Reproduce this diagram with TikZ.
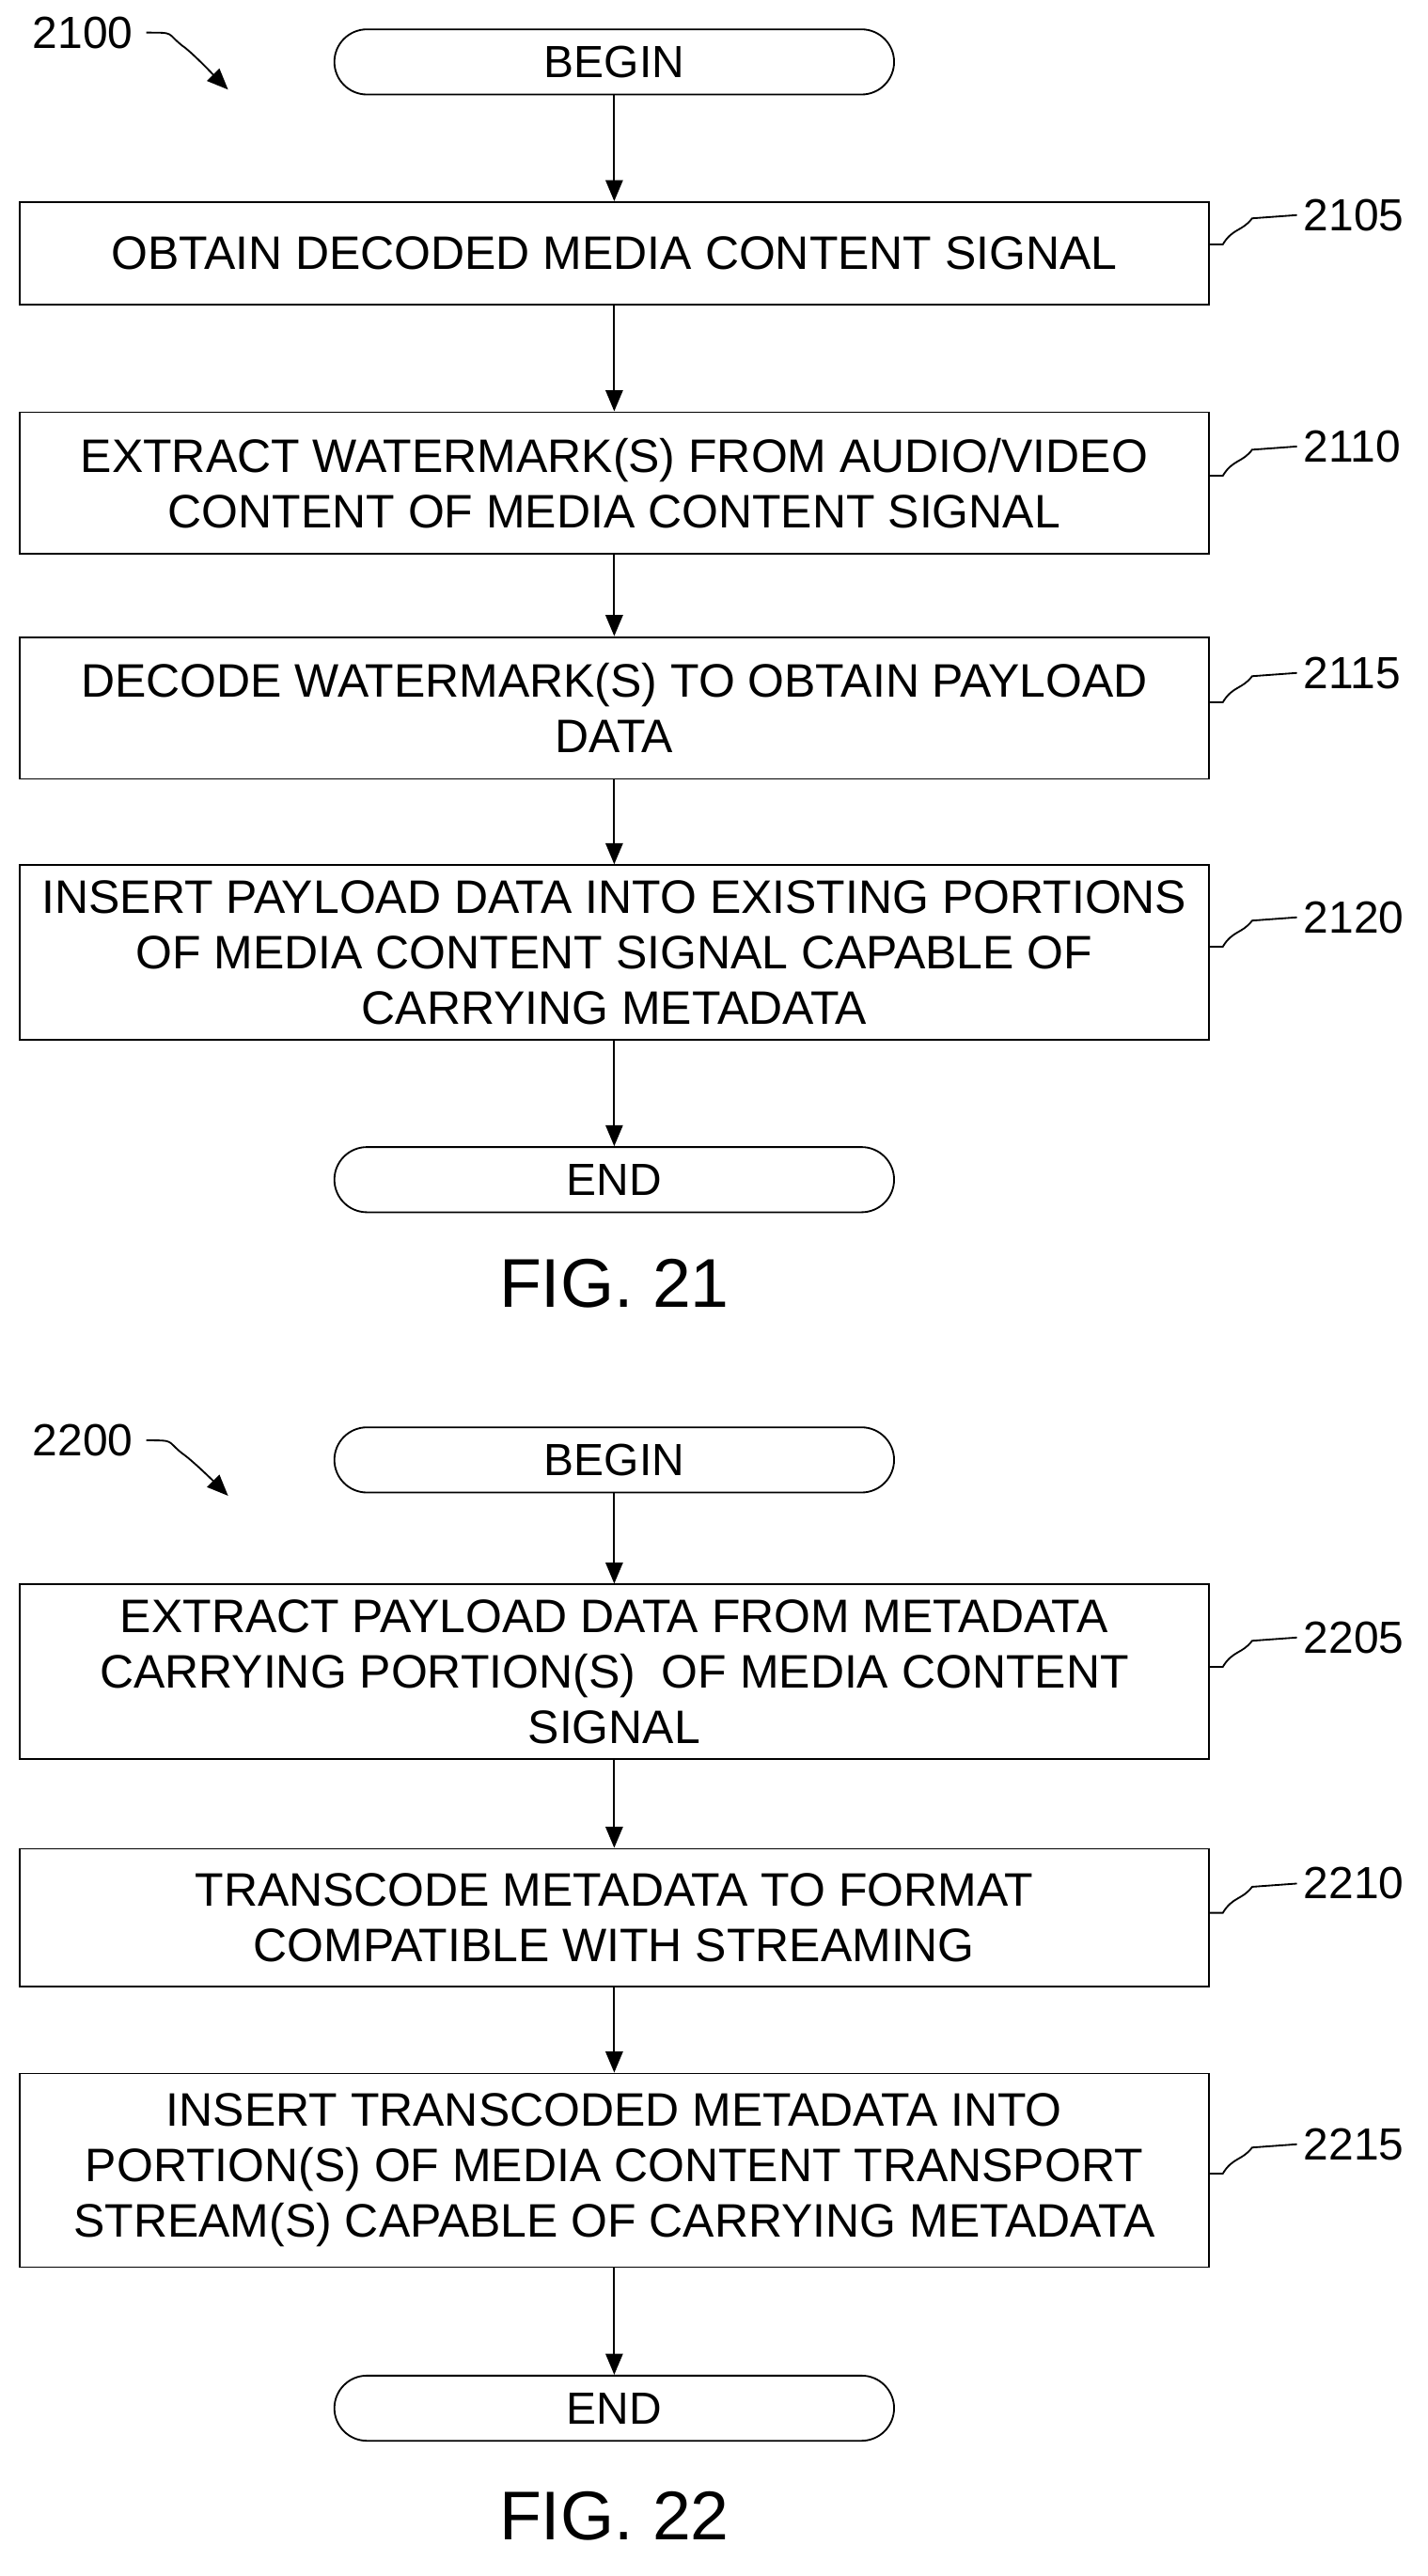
\documentclass[tikz,border=0pt]{standalone}
\usepackage{fontspec}
\setmainfont{Liberation Sans}
\usetikzlibrary{arrows.meta}
\tikzset{
  stepbox/.style={draw, line width=0.9pt, minimum width=620.5pt, align=center, font=\fontsize{24.5}{29}\selectfont, inner sep=0pt},
  termbox/.style={draw, line width=0.9pt, rounded corners=17pt, minimum width=292pt, minimum height=34pt, font=\fontsize{23.5}{26}\selectfont, inner sep=0pt},
  arr/.style={-{Triangle[length=11pt,width=9pt]}, line width=0.9pt},
  reflabel/.style={font=\fontsize{23.5}{26}\selectfont, anchor=west},
  figlabel/.style={font=\fontsize{36}{40}\selectfont}
}
\newcommand{\leader}[2]{\draw[line width=0.9pt] (#1) -- ++(8,0) .. controls ++(6,-10) and ++(-6,8) .. ++(18,-16) -- (#2.west);}
\begin{document}
\begin{tikzpicture}[x=0.85pt, y=-0.85pt]
\useasboundingbox (0,0) rectangle (876,1581);
% FIG. 21
\node[reflabel] (n2100) at (16,20) {2100};
\coordinate (t2100) at (140,55);
\draw[arr] (n2100.east) ++(4,0) .. controls ++(18,0) and ++(-10,-8) .. ++(22,8) .. controls ++(6,4) and ++(-8,-8) .. (t2100);
\node[termbox] (begin1) at (377,38) {BEGIN};
\node[stepbox, minimum height=53.5pt] (s2105) at (377,155.5) {OBTAIN DECODED MEDIA CONTENT SIGNAL};
\node[stepbox, minimum height=74pt] (s2110) at (377,296.5) {EXTRACT WATERMARK(S) FROM AUDIO/VIDEO\\CONTENT OF MEDIA CONTENT SIGNAL};
\node[stepbox, minimum height=74pt] (s2115) at (377,434.5) {DECODE WATERMARK(S) TO OBTAIN PAYLOAD\\DATA};
\node[stepbox, minimum height=91pt] (s2120) at (377,584.5) {INSERT PAYLOAD DATA INTO EXISTING PORTIONS\\OF MEDIA CONTENT SIGNAL CAPABLE OF\\CARRYING METADATA};
\node[termbox] (end1) at (377,724) {END};
\node[figlabel] (fig21) at (377,788) {FIG. 21};
\draw[arr] (begin1) -- (s2105);
\draw[arr] (s2105) -- (s2110);
\draw[arr] (s2110) -- (s2115);
\draw[arr] (s2115) -- (s2120);
\draw[arr] (s2120) -- (end1);
\node[reflabel] (n2105) at (796,132) {2105};
\node[reflabel] (n2110) at (796,274) {2110};
\node[reflabel] (n2115) at (796,413) {2115};
\node[reflabel] (n2120) at (796,563) {2120};
\leader{s2105.east |- 0,150}{n2105}
\leader{s2110.east |- 0,292}{n2110}
\leader{s2115.east |- 0,431}{n2115}
\leader{s2120.east |- 0,581}{n2120}
% FIG. 22
\node[reflabel] (n2200) at (16,884) {2200};
\coordinate (t2200) at (140,918);
\draw[arr] (n2200.east) ++(4,0) .. controls ++(18,0) and ++(-10,-8) .. ++(22,8) .. controls ++(6,4) and ++(-8,-8) .. (t2200);
\node[termbox] (begin2) at (377,896) {BEGIN};
\node[stepbox, minimum height=91pt] (s2205) at (377,1026) {EXTRACT PAYLOAD DATA FROM METADATA\\CARRYING PORTION(S)\ \ OF MEDIA CONTENT\\SIGNAL};
\node[stepbox, minimum height=72pt] (s2210) at (377,1177) {TRANSCODE METADATA TO FORMAT\\COMPATIBLE WITH STREAMING};
\node[stepbox, minimum height=101pt] (s2215) at (377,1332) {INSERT TRANSCODED METADATA INTO\\PORTION(S) OF MEDIA CONTENT TRANSPORT\\STREAM(S) CAPABLE OF CARRYING METADATA};
\node[termbox] (end2) at (377,1478) {END};
\node[figlabel] (fig22) at (377,1544) {FIG. 22};
\draw[arr] (begin2) -- (s2205);
\draw[arr] (s2205) -- (s2210);
\draw[arr] (s2210) -- (s2215);
\draw[arr] (s2215) -- (end2);
\node[reflabel] (n2205) at (796,1005) {2205};
\node[reflabel] (n2210) at (796,1156) {2210};
\node[reflabel] (n2215) at (796,1316) {2215};
\leader{s2205.east |- 0,1023}{n2205}
\leader{s2210.east |- 0,1174}{n2210}
\leader{s2215.east |- 0,1334}{n2215}
\end{tikzpicture}
\end{document}
